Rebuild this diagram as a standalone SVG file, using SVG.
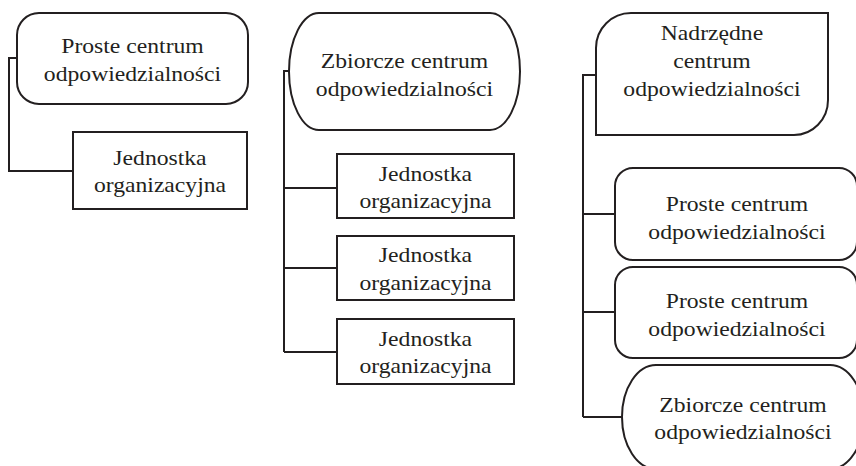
<svg xmlns="http://www.w3.org/2000/svg" width="856" height="466" viewBox="0 0 856 466">
<style>
.s{fill:#fff;stroke:#231f20;stroke-width:2}
.c{fill:none;stroke:#231f20;stroke-width:2}
.t{font-family:"Liberation Serif","Times New Roman",serif;font-size:21.5px;fill:#231f20;text-anchor:middle}
</style>
<rect width="856" height="466" fill="#fff"/>
<g id="connectors">
<path class="c" d="M17,58 H9 V171 H73"/>
<path class="c" d="M289,71 H284 V352 M284,188 H337 M284,268 H337 M284,352 H337"/>
<path class="c" d="M596,75 H583 V417 M583,214 H615 M583,312 H615 M583,417 H624"/>
</g>
<g id="n1">
<rect class="s" x="17" y="13" width="231" height="91" rx="22"/>
<text class="t" transform="matrix(1.1 0 0 1 -13.25 0)"><tspan x="132.5" y="53">Proste centrum</tspan><tspan x="132.5" y="81">odpowiedzialności</tspan></text>
</g>
<g id="n2">
<rect class="s" x="73" y="132" width="174" height="77"/>
<text class="t" transform="matrix(1.1 0 0 1 -16 0)"><tspan x="160" y="165">Jednostka</tspan><tspan x="160" y="192">organizacyjna</tspan></text>
</g>
<g id="n3">
<rect class="s" x="289" y="13" width="231" height="117" rx="30" ry="58.5"/>
<text class="t" transform="matrix(1.1 0 0 1 -40.45 0)"><tspan x="404.5" y="68">Zbiorcze centrum</tspan><tspan x="404.5" y="96">odpowiedzialności</tspan></text>
</g>
<g id="n4">
<rect class="s" x="337" y="154" width="177" height="64"/>
<text class="t" transform="matrix(1.1 0 0 1 -42.55 0)"><tspan x="425.5" y="181">Jednostka</tspan><tspan x="425.5" y="208">organizacyjna</tspan></text>
</g>
<g id="n5">
<rect class="s" x="337" y="236" width="177" height="64"/>
<text class="t" transform="matrix(1.1 0 0 1 -42.55 0)"><tspan x="425.5" y="262">Jednostka</tspan><tspan x="425.5" y="290">organizacyjna</tspan></text>
</g>
<g id="n6">
<rect class="s" x="337" y="319" width="177" height="65"/>
<text class="t" transform="matrix(1.1 0 0 1 -42.55 0)"><tspan x="425.5" y="346">Jednostka</tspan><tspan x="425.5" y="373">organizacyjna</tspan></text>
</g>
<g id="n7">
<path class="s" d="M631,13 H828 V100 A34 35 0 0 1 794,135 H596 V48 A35 35 0 0 1 631,13 Z"/>
<text class="t" transform="matrix(1.1 0 0 1 -71.2 0)"><tspan x="712" y="40">Nadrzędne</tspan><tspan x="712" y="68">centrum</tspan><tspan x="712" y="96">odpowiedzialności</tspan></text>
</g>
<g id="n8">
<rect class="s" x="615" y="168" width="242" height="92" rx="18"/>
<text class="t" transform="matrix(1.1 0 0 1 -73.7 0)"><tspan x="737" y="211">Proste centrum</tspan><tspan x="737" y="239">odpowiedzialności</tspan></text>
</g>
<g id="n9">
<rect class="s" x="615" y="267" width="242" height="91" rx="18"/>
<text class="t" transform="matrix(1.1 0 0 1 -73.7 0)"><tspan x="737" y="308">Proste centrum</tspan><tspan x="737" y="336">odpowiedzialności</tspan></text>
</g>
<g id="n10">
<rect class="s" x="622" y="365" width="242" height="104" rx="34" ry="52"/>
<text class="t" transform="matrix(1.1 0 0 1 -74.3 0)"><tspan x="743" y="412">Zbiorcze centrum</tspan><tspan x="743" y="439">odpowiedzialności</tspan></text>
</g>
</svg>
